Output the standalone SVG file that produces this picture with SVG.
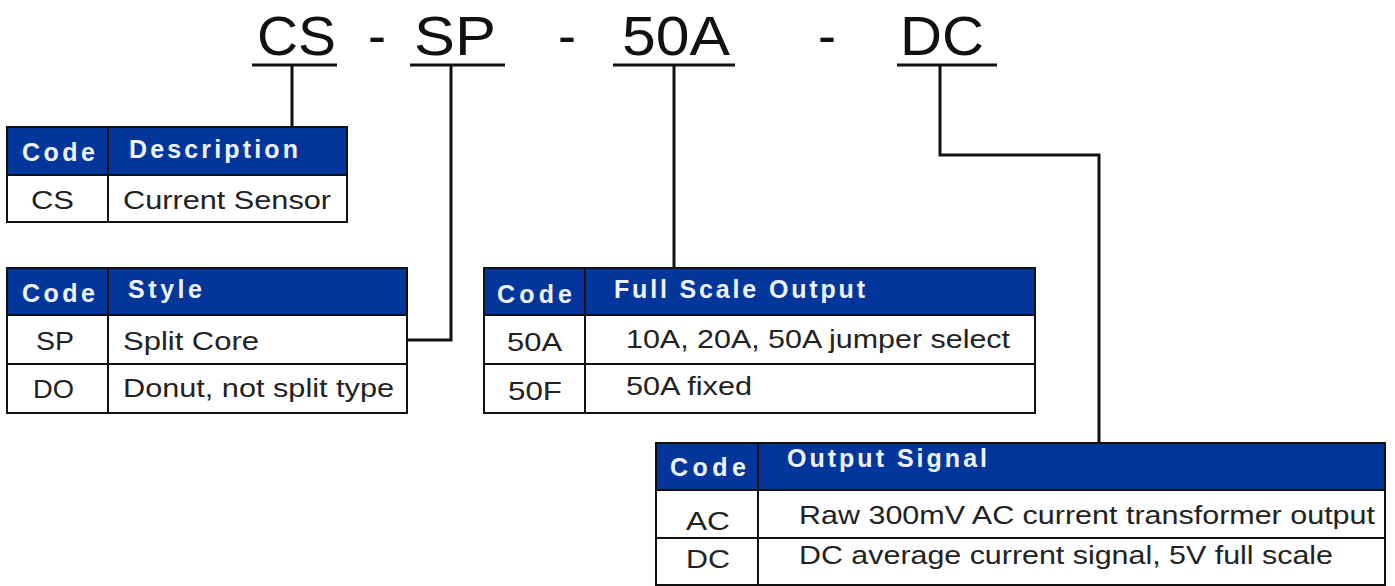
<svg xmlns="http://www.w3.org/2000/svg" width="1395" height="586" viewBox="0 0 1395 586">
<style>
.bg{fill:#ffffff}
.hdr{fill:#02369a;stroke:#111;stroke-width:2}
.cell{fill:#ffffff;stroke:#111;stroke-width:2}
.div{stroke:#111;stroke-width:2}
.ht{font-family:"Liberation Sans",Arial,sans-serif;font-weight:bold;font-size:25px;fill:#eef3ff}
.bt{font-family:"Liberation Sans",Arial,sans-serif;font-size:26.5px;fill:#222}
.title{font-family:"Liberation Sans",Arial,sans-serif;font-size:55px;fill:#111}
.ul{stroke:#111;stroke-width:3}
.conn{fill:none;stroke:#111;stroke-width:3}
</style>
<rect class="bg" x="0" y="0" width="1395" height="586"/>

<g id="title">
<text class="title" x="257" y="55" textLength="79" lengthAdjust="spacingAndGlyphs">CS</text>
<text class="title" x="368" y="55" textLength="18" lengthAdjust="spacingAndGlyphs">-</text>
<text class="title" x="414" y="55" textLength="82" lengthAdjust="spacingAndGlyphs">SP</text>
<text class="title" x="558" y="55" textLength="18" lengthAdjust="spacingAndGlyphs">-</text>
<text class="title" x="622" y="55" textLength="108" lengthAdjust="spacingAndGlyphs">50A</text>
<text class="title" x="818" y="55" textLength="18" lengthAdjust="spacingAndGlyphs">-</text>
<text class="title" x="900" y="55" textLength="84" lengthAdjust="spacingAndGlyphs">DC</text>
<line class="ul" x1="252" y1="65" x2="337" y2="65"/>
<line class="ul" x1="410" y1="65" x2="505" y2="65"/>
<line class="ul" x1="613" y1="65" x2="735" y2="65"/>
<line class="ul" x1="897" y1="65" x2="997" y2="65"/>
</g>

<g id="connectors">
<path class="conn" d="M292 65 V127"/>
<path class="conn" d="M451 65 V340 H407"/>
<path class="conn" d="M674 65 V268"/>
<path class="conn" d="M940 65 V155 H1099 V443"/>
</g>

<g id="table-description">
<rect class="hdr" x="7" y="127" width="340" height="48"/>
<rect class="cell" x="7" y="175" width="340" height="47"/>
<line class="div" x1="108" y1="127" x2="108" y2="222"/>
<text class="ht" x="22" y="161" textLength="73">Code</text>
<text class="ht" x="129" y="158" textLength="169">Description</text>
<text class="bt" x="31" y="209" textLength="43" lengthAdjust="spacingAndGlyphs">CS</text>
<text class="bt" x="123" y="209" textLength="208" lengthAdjust="spacingAndGlyphs">Current Sensor</text>
</g>

<g id="table-style">
<rect class="hdr" x="7" y="268" width="400" height="47"/>
<rect class="cell" x="7" y="315" width="400" height="49"/>
<rect class="cell" x="7" y="364" width="400" height="49"/>
<line class="div" x1="108" y1="268" x2="108" y2="413"/>
<text class="ht" x="22" y="302" textLength="73">Code</text>
<text class="ht" x="128" y="298" textLength="74">Style</text>
<text class="bt" x="36" y="350" textLength="38" lengthAdjust="spacingAndGlyphs">SP</text>
<text class="bt" x="123" y="350" textLength="136" lengthAdjust="spacingAndGlyphs">Split Core</text>
<text class="bt" x="33" y="398" textLength="41" lengthAdjust="spacingAndGlyphs">DO</text>
<text class="bt" x="123" y="397" textLength="271" lengthAdjust="spacingAndGlyphs">Donut, not split type</text>
</g>

<g id="table-output">
<rect class="hdr" x="484" y="268" width="551" height="47"/>
<rect class="cell" x="484" y="315" width="551" height="49"/>
<rect class="cell" x="484" y="364" width="551" height="49"/>
<line class="div" x1="585" y1="268" x2="585" y2="413"/>
<text class="ht" x="497" y="303" textLength="75">Code</text>
<text class="ht" x="614" y="298" textLength="251">Full Scale Output</text>
<text class="bt" x="507" y="351" textLength="55" lengthAdjust="spacingAndGlyphs">50A</text>
<text class="bt" x="626" y="348" textLength="384" lengthAdjust="spacingAndGlyphs">10A, 20A, 50A jumper select</text>
<text class="bt" x="508" y="400" textLength="54" lengthAdjust="spacingAndGlyphs">50F</text>
<text class="bt" x="626" y="395" textLength="126" lengthAdjust="spacingAndGlyphs">50A fixed</text>
</g>

<g id="table-signal">
<rect class="hdr" x="656" y="443" width="729" height="47"/>
<rect class="cell" x="656" y="490" width="729" height="48"/>
<rect class="cell" x="656" y="538" width="729" height="47"/>
<line class="div" x1="758" y1="443" x2="758" y2="585"/>
<text class="ht" x="670" y="476" textLength="76">Code</text>
<text class="ht" x="787" y="467" textLength="200">Output Signal</text>
<text class="bt" x="686" y="530" textLength="44" lengthAdjust="spacingAndGlyphs">AC</text>
<text class="bt" x="799" y="524" textLength="576" lengthAdjust="spacingAndGlyphs">Raw 300mV AC current transformer output</text>
<text class="bt" x="686" y="568" textLength="44" lengthAdjust="spacingAndGlyphs">DC</text>
<text class="bt" x="799" y="564" textLength="534" lengthAdjust="spacingAndGlyphs">DC average current signal, 5V full scale</text>
</g>
</svg>
